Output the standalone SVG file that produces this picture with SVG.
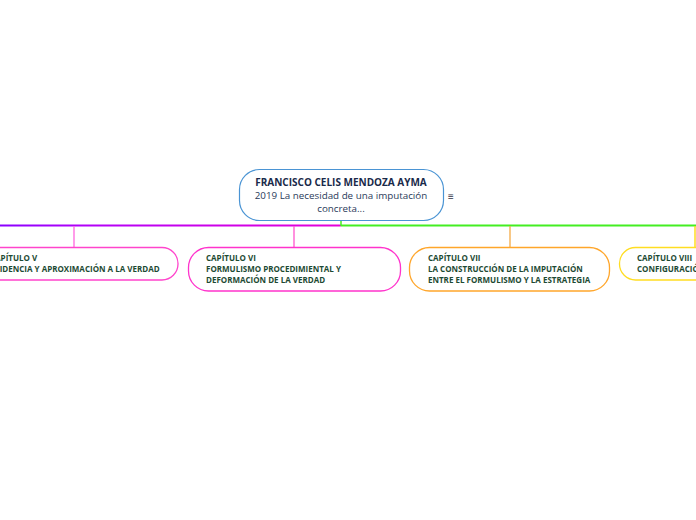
<svg xmlns="http://www.w3.org/2000/svg" width="696" height="520" viewBox="0 0 696 520">
<defs>
<linearGradient id="gl" x1="0" y1="0" x2="341" y2="0" gradientUnits="userSpaceOnUse">
<stop offset="0" stop-color="#8a00ff"/>
<stop offset="0.25" stop-color="#b200f8"/>
<stop offset="1" stop-color="#e600d8"/>
</linearGradient>
<style>
.t{font-family:"Open Sans","Noto Sans","Liberation Sans",sans-serif;}
.ch{font-size:8px;font-weight:700;fill:#1d4a33;}
.nd{fill:#ffffff;stroke-width:1.3;}
.cn{fill:none;stroke-width:1.3;}
</style>
</defs>
<rect width="696" height="520" fill="#ffffff"/>
<g id="connectors">
<line x1="0" y1="225.5" x2="341" y2="225.5" stroke="url(#gl)" stroke-width="2"/>
<line x1="341" y1="225.5" x2="696" y2="225.5" stroke="#44ee22" stroke-width="2"/>
<line x1="341" y1="221" x2="341" y2="226" stroke="#44ee22" stroke-width="1.5"/>
<line class="cn" x1="74" y1="226" x2="74" y2="247.5" stroke="#ff66dd"/>
<line class="cn" x1="294" y1="226" x2="294" y2="247.5" stroke="#ff55cc"/>
<line class="cn" x1="510" y1="226" x2="510" y2="247.5" stroke="#f4aa44"/>
<line class="cn" x1="695" y1="226" x2="695" y2="247.5" stroke="#ffd700"/>
</g>
<g id="root">
<rect x="239.5" y="169.5" width="204" height="51" rx="20" fill="#ffffff" stroke="#4a94d4" stroke-width="1.2"/>
<text class="t" x="341" y="186" text-anchor="middle" font-size="10" font-weight="700" fill="#1a2a4a">FRANCISCO CELIS MENDOZA AYMA</text>
<text class="t" x="341" y="199" text-anchor="middle" font-size="9.8" fill="#2a3a5a">2019 La necesidad de una imputación</text>
<text class="t" x="341" y="212" text-anchor="middle" font-size="9.8" fill="#2a3a5a">concreta...</text>
<text class="t" x="451" y="200" text-anchor="middle" font-size="10" fill="#334">≡</text>
</g>
<g id="cap5">
<rect class="nd" x="-40" y="247.5" width="218" height="32.5" rx="16" stroke="#ff44cc"/>
<text class="t ch" x="-10" y="261">CAPÍTULO V</text>
<text class="t ch" x="-10" y="272">EVIDENCIA Y APROXIMACIÓN A LA VERDAD</text>
</g>
<g id="cap6">
<rect class="nd" x="188.5" y="247.5" width="212" height="43.5" rx="20" stroke="#ff33cc"/>
<text class="t ch" x="206" y="261">CAPÍTULO VI</text>
<text class="t ch" x="206" y="272">FORMULISMO PROCEDIMIENTAL Y</text>
<text class="t ch" x="206" y="283">DEFORMACIÓN DE LA VERDAD</text>
</g>
<g id="cap7">
<rect class="nd" x="409.5" y="247.5" width="200" height="43.5" rx="20" stroke="#ffa62b"/>
<text class="t ch" x="428" y="261">CAPÍTULO VII</text>
<text class="t ch" x="428" y="272">LA CONSTRUCCIÓN DE LA IMPUTACIÓN</text>
<text class="t ch" x="428" y="283">ENTRE EL FORMULISMO Y LA ESTRATEGIA</text>
</g>
<g id="cap8">
<rect class="nd" x="619.5" y="247.5" width="200" height="32.5" rx="16" stroke="#ffdd22"/>
<text class="t ch" x="637" y="261">CAPÍTULO VIII</text>
<text class="t ch" x="637" y="272">CONFIGURACIÓN</text>
</g>
</svg>
